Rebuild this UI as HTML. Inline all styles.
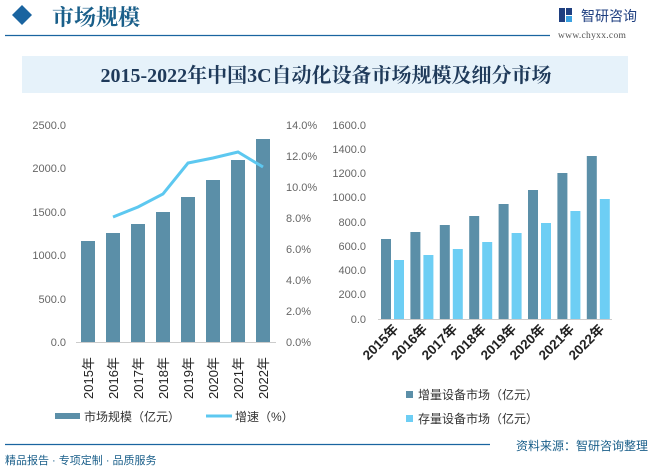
<!DOCTYPE html>
<html><head><meta charset="utf-8"><style>
html,body{margin:0;padding:0;background:#fff;}
svg text{font-family:"Liberation Sans","Noto Sans CJK SC",sans-serif;}
</style></head><body>
<svg width="653" height="468" viewBox="0 0 653 468" xmlns="http://www.w3.org/2000/svg">
<rect width="653" height="468" fill="#fff"/>
<!-- header -->
<polygon points="22,5 32,15 22,25 12,15" fill="#1a64a0"/>
<text x="52" y="25" font-size="22" font-weight="bold" fill="#1a5f8a" style="font-family:'Noto Serif CJK SC',serif">市场规模</text>
<line x1="5" y1="35.5" x2="550" y2="35.5" stroke="#1a64a0" stroke-width="1.2"/>
<rect x="559" y="8" width="6" height="14" fill="#1f3f80"/><rect x="566" y="8" width="6" height="7" fill="#1f3f80"/><rect x="566" y="16" width="6" height="6" fill="#3aa0e0"/>
<text x="581" y="21" font-size="14" fill="#1f3f80">智研咨询</text>
<text x="558" y="38" font-size="9.5" fill="#555" style="font-family:'Liberation Serif',serif" letter-spacing="0.3">www.chyxx.com</text>
<!-- title band -->
<rect x="22" y="56" width="606" height="37" fill="#e6f2fa"/>
<text x="326" y="82" font-size="20" font-weight="bold" fill="#1f3a5a" text-anchor="middle" style="font-family:'Liberation Serif','Noto Serif CJK SC',serif">2015-2022年中国3C自动化设备市场规模及细分市场</text>
<!-- left chart -->
<g font-size="11" fill="#666">
<text x="66" y="129" text-anchor="end">2500.0</text>
<text x="66" y="172" text-anchor="end">2000.0</text>
<text x="66" y="216" text-anchor="end">1500.0</text>
<text x="66" y="259" text-anchor="end">1000.0</text>
<text x="66" y="303" text-anchor="end">500.0</text>
<text x="66" y="346" text-anchor="end">0.0</text>
<text x="286" y="129">14.0%</text>
<text x="286" y="160">12.0%</text>
<text x="286" y="191">10.0%</text>
<text x="286" y="222">8.0%</text>
<text x="286" y="253">6.0%</text>
<text x="286" y="284">4.0%</text>
<text x="286" y="315">2.0%</text>
<text x="286" y="346">0.0%</text>
</g>
<g fill="#5b8fa8">
<rect x="81" y="241" width="14" height="101"/>
<rect x="106" y="233" width="14" height="109"/>
<rect x="131" y="224" width="14" height="118"/>
<rect x="156" y="212" width="14" height="130"/>
<rect x="181" y="197" width="14" height="145"/>
<rect x="206" y="180" width="14" height="162"/>
<rect x="231" y="160" width="14" height="182"/>
<rect x="256" y="139" width="14" height="203"/>
</g>
<line x1="76" y1="342.5" x2="276" y2="342.5" stroke="#ccc"/>
<polyline points="113,217 138,207 163,194 188,163 213,158 238,152 263,167" fill="none" stroke="#5dc8f0" stroke-width="3"/>
<g font-size="13" fill="#222">
<text transform="translate(93,399) rotate(-90)">2015年</text>
<text transform="translate(118,399) rotate(-90)">2016年</text>
<text transform="translate(143,399) rotate(-90)">2017年</text>
<text transform="translate(168,399) rotate(-90)">2018年</text>
<text transform="translate(193,399) rotate(-90)">2019年</text>
<text transform="translate(218,399) rotate(-90)">2020年</text>
<text transform="translate(243,399) rotate(-90)">2021年</text>
<text transform="translate(268,399) rotate(-90)">2022年</text>
</g>
<rect x="55" y="413" width="25" height="6" fill="#5b8fa8"/>
<text x="84" y="421" font-size="12" fill="#333">市场规模（亿元）</text>
<line x1="206" y1="416" x2="232" y2="416" stroke="#5dc8f0" stroke-width="3"/>
<text x="235" y="421" font-size="12" fill="#333">增速（%）</text>
<!-- right chart -->
<g font-size="11" fill="#666">
<text x="366" y="129" text-anchor="end">1600.0</text>
<text x="366" y="153" text-anchor="end">1400.0</text>
<text x="366" y="177" text-anchor="end">1200.0</text>
<text x="366" y="201" text-anchor="end">1000.0</text>
<text x="366" y="226" text-anchor="end">800.0</text>
<text x="366" y="250" text-anchor="end">600.0</text>
<text x="366" y="274" text-anchor="end">400.0</text>
<text x="366" y="298" text-anchor="end">200.0</text>
<text x="366" y="323" text-anchor="end">0.0</text>
</g>
<g fill="#5b8fa8">
<rect x="381" y="239" width="10" height="80"/>
<rect x="410.4" y="232" width="10" height="87"/>
<rect x="439.8" y="225" width="10" height="94"/>
<rect x="469.2" y="216" width="10" height="103"/>
<rect x="498.6" y="204" width="10" height="115"/>
<rect x="528" y="190" width="10" height="129"/>
<rect x="557.4" y="173" width="10" height="146"/>
<rect x="586.8" y="156" width="10" height="163"/>
</g>
<g fill="#6dcef4">
<rect x="394" y="260" width="10" height="59"/>
<rect x="423.4" y="255" width="10" height="64"/>
<rect x="452.8" y="249" width="10" height="70"/>
<rect x="482.2" y="242" width="10" height="77"/>
<rect x="511.6" y="233" width="10" height="86"/>
<rect x="541" y="223" width="10" height="96"/>
<rect x="570.4" y="211" width="10" height="108"/>
<rect x="599.8" y="199" width="10" height="120"/>
</g>
<line x1="378" y1="319.5" x2="612" y2="319.5" stroke="#ccc"/>
<g font-size="13.5" font-weight="bold" fill="#222" text-anchor="end">
<text transform="translate(399,330) rotate(-45)">2015年</text>
<text transform="translate(428,330) rotate(-45)">2016年</text>
<text transform="translate(458,330) rotate(-45)">2017年</text>
<text transform="translate(487,330) rotate(-45)">2018年</text>
<text transform="translate(517,330) rotate(-45)">2019年</text>
<text transform="translate(546,330) rotate(-45)">2020年</text>
<text transform="translate(575,330) rotate(-45)">2021年</text>
<text transform="translate(605,330) rotate(-45)">2022年</text>
</g>
<rect x="406" y="391" width="7" height="7" fill="#5b8fa8"/>
<text x="418" y="399" font-size="12" fill="#333">增量设备市场（亿元）</text>
<rect x="406" y="415" width="7" height="7" fill="#6dcef4"/>
<text x="418" y="423" font-size="12" fill="#333">存量设备市场（亿元）</text>
<!-- footer -->
<line x1="5" y1="444.5" x2="490" y2="444.5" stroke="#1a64a0" stroke-width="1.2"/>
<text x="648" y="450" font-size="12" fill="#1a5f8a" text-anchor="end">资料来源：智研咨询整理</text>
<text x="5" y="464" font-size="11" fill="#1a5f8a">精品报告 · 专项定制 · 品质服务</text>
</svg>
</body></html>
